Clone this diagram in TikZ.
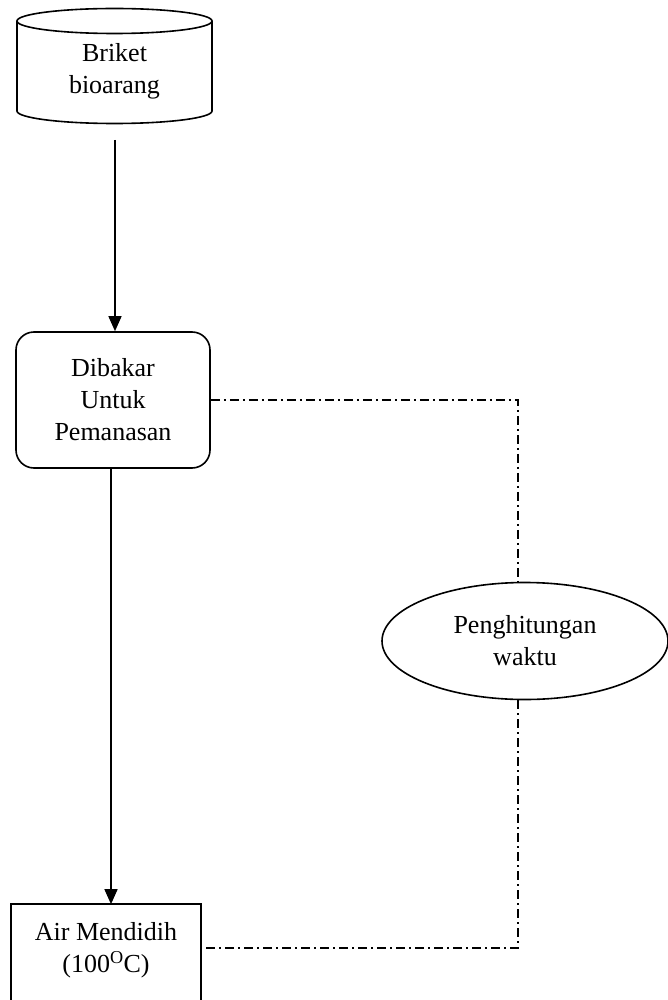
\documentclass[tikz,border=0pt]{standalone}
\usepackage{fontspec}
\setmainfont{Liberation Serif}
\usetikzlibrary{shapes.geometric,arrows.meta}
\begin{document}
\begin{tikzpicture}[x=1pt,y=-1pt,
  lbl/.style={font=\fontsize{26}{32}\selectfont, align=center, line width=1.6pt},
  shp/.style={line width=1.6pt},
  flow/.style={line width=1.4pt, -{Triangle[width=13pt,length=15pt]}},
  dd/.style={line width=1.3pt, dash pattern=on 9pt off 4pt on 2pt off 4pt}]
\useasboundingbox (0,0) rectangle (668,1000);
\clip (0,0) rectangle (668,1000);
% cylinder
\node[lbl, minimum width=195pt, minimum height=100pt, inner sep=0pt] (bri) at (114.5,71) {Briket\\bioarang};
\draw[shp] ([yshift=50pt]bri.center) ellipse [x radius=97.5pt, y radius=12.5pt];
\draw[shp] ([shift={(-97.5pt,50pt)}]bri.center) -- ([shift={(-97.5pt,-40pt)}]bri.center)
  arc[start angle=180, end angle=360, x radius=97.5pt, y radius=12.5pt]
  -- ([shift={(97.5pt,50pt)}]bri.center);
\node[lbl, draw, rounded corners=18pt, minimum width=194pt, minimum height=136pt] (dib) at (113,400) {Dibakar\\Untuk\\Pemanasan};
% bottom box (cut off by the page edge)
\node[lbl, minimum width=188pt, minimum height=90pt] (air) at (106,950) {Air Mendidih\\(100\textsuperscript{O}C)};
\draw[shp] ([yshift=-30pt]air.south west) -- (air.north west) -- (air.north east) -- ([yshift=-30pt]air.south east);
\node[lbl, draw, ellipse, minimum width=286pt, minimum height=117pt] (pen) at (525,641) {Penghitungan\\waktu};
\coordinate (a0) at (115,140);
\draw[flow] (a0) -- (dib.north -| a0);
\draw[flow] (dib.south -| 111,0) -- (air.north -| 111,0);
\draw[dd] (dib.east) -| (pen.north -| 518,0);
\draw[dd] (pen.south -| 518,0) |- (air.east |- 0,948);
\end{tikzpicture}
\end{document}
